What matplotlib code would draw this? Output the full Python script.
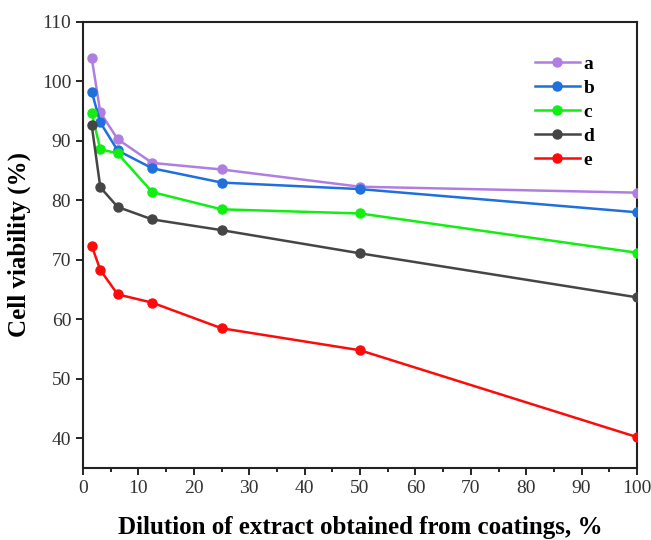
import matplotlib
matplotlib.use("Agg")
import matplotlib.pyplot as plt
from matplotlib.ticker import MultipleLocator

plt.rcParams['font.family'] = ['Liberation Serif', 'DejaVu Serif']

dilution = [1.5625, 3.125, 6.25, 12.5, 25, 50, 100]
series_a = [104.0, 94.8, 90.3, 86.3, 85.2, 82.3, 81.3]
series_b = [98.3, 93.1, 88.4, 85.4, 83.0, 81.9, 78.0]
series_c = [94.7, 88.6, 87.9, 81.4, 78.5, 77.8, 71.2]
series_d = [92.7, 82.2, 78.9, 76.8, 75.0, 71.1, 63.7]
series_e = [72.4, 68.3, 64.2, 62.8, 58.5, 54.8, 40.2]
labels = ['a', 'b', 'c', 'd', 'e']
colors = ['#b07ee0', '#1f6fdc', '#11ee11', '#454545', '#ff0a0a']

fig = plt.figure(figsize=(6.51, 5.40), dpi=100)
ax = fig.add_axes([0.1275, 0.1333, 0.851, 0.826])

for ys, lab, col in zip([series_a, series_b, series_c, series_d, series_e], labels, colors):
    ax.plot(dilution, ys, '-o', color=col, lw=1.8, ms=6.5, label=lab, zorder=3)

ax.set_xlim(0, 100)
ax.set_ylim(35, 110)
ax.xaxis.set_major_locator(MultipleLocator(10))
ax.xaxis.set_minor_locator(MultipleLocator(5))
ax.yaxis.set_major_locator(MultipleLocator(10))
ax.tick_params(axis='both', which='major', direction='out', length=5, width=1.2,
               labelsize=14, labelcolor='#333333')
ax.tick_params(axis='x', which='minor', direction='out', length=3, width=1.2)
for s in ax.spines.values():
    s.set_linewidth(1.5)
    s.set_color('#222222')

ax.set_xlabel('Dilution of extract obtained from coatings, %', fontsize=18, fontweight='bold', labelpad=14)
ax.set_ylabel('Cell viability (%)', fontsize=18, fontweight='bold', labelpad=8)

leg = ax.legend(loc='upper right', bbox_to_anchor=(0.955, 0.965), frameon=False,
                prop={'weight': 'bold', 'size': 14}, handlelength=2.3, handletextpad=0.2,
                labelspacing=0.33)

fig.savefig('out.png', dpi=100)
